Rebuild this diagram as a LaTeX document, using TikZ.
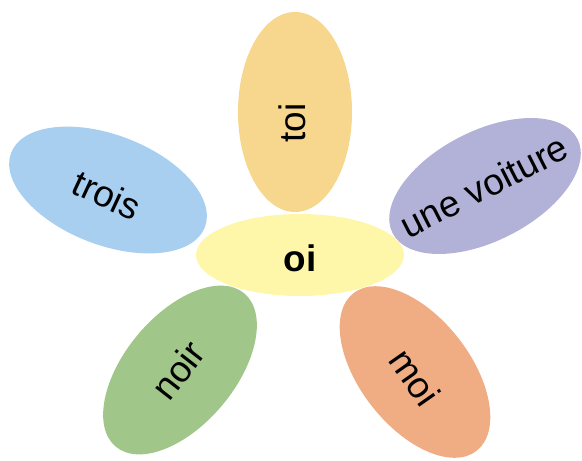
\documentclass[tikz,border=0pt]{standalone}
\usepackage{fontspec}
\setmainfont{Liberation Sans}
\usetikzlibrary{shapes.geometric}

\definecolor{heartyellow}{RGB}{254,246,168}
\definecolor{toiorange}{RGB}{247,214,142}
\definecolor{troisblue}{RGB}{168,206,240}
\definecolor{voiturelilac}{RGB}{178,178,216}
\definecolor{noirgreen}{RGB}{160,198,138}
\definecolor{moisalmon}{RGB}{240,172,130}

\begin{document}
\begin{tikzpicture}[
    petal/.style={ellipse, draw=none, inner sep=0pt, minimum width=4.15cm, minimum height=2.2cm},
    word/.style={font=\fontsize{21}{25}\selectfont, inner sep=0pt}
]
    \useasboundingbox (-6.0,-4.1) rectangle (5.64,5.1);

    % Petals
    \node[petal, fill=toiorange, rotate=90, minimum width=4.0cm, minimum height=2.28cm] (toi) at (-0.1,2.86) {};
    \node[petal, fill=troisblue, rotate=-21] (trois) at (-3.84,1.3) {};
    \node[petal, fill=voiturelilac, rotate=27] (voiture) at (3.7,1.38) {};
    \node[petal, fill=noirgreen, rotate=50, minimum width=4.0cm] (noir) at (-2.4,-2.3) {};
    \node[petal, fill=moisalmon, rotate=-52, minimum width=4.0cm] (moi) at (2.3,-2.34) {};

    % Heart of the flower
    \node[petal, fill=heartyellow, minimum width=4.16cm, minimum height=1.64cm] (oi) at (0,0) {};

    % Words
    \node[word, rotate=90] (toiword) at (-0.16,2.64) {toi};
    \node[word, rotate=-25] (troisword) at (-3.86,1.2) {trois};
    \node[word, rotate=27] (voitureword) at (3.68,1.38) {une voiture};
    \node[word, rotate=52] (noirword) at (-2.44,-2.3) {noir};
    \node[word, rotate=-55] (moiword) at (2.3,-2.44) {moi};
    \node[word, font=\fontsize{21}{25}\selectfont\bfseries] (oiword) at (0,-0.06) {oi};
\end{tikzpicture}
\end{document}
